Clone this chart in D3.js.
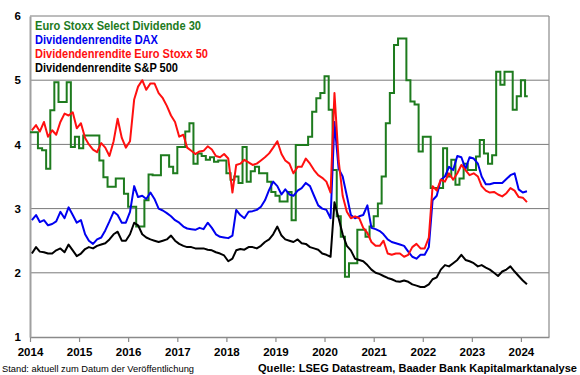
<!DOCTYPE html>
<html><head><meta charset="utf-8">
<script src="https://cdn.jsdelivr.net/npm/d3@7"></script>
<style>
html,body{margin:0;padding:0;background:#fff;}
svg{display:block;font-family:"Liberation Sans",Arial,sans-serif;}
</style></head>
<body><svg id="c" width="580" height="375"></svg>
<script>
// ---- data (monthly) ----
const months = [
"2014-01","2014-02","2014-03","2014-04","2014-05","2014-06","2014-07","2014-08","2014-09","2014-10","2014-11","2014-12",
"2015-01","2015-02","2015-03","2015-04","2015-05","2015-06","2015-07","2015-08","2015-09","2015-10","2015-11","2015-12",
"2016-01","2016-02","2016-03","2016-04","2016-05","2016-06","2016-07","2016-08","2016-09","2016-10","2016-11","2016-12",
"2017-01","2017-02","2017-03","2017-04","2017-05","2017-06","2017-07","2017-08","2017-09","2017-10","2017-11","2017-12",
"2018-01","2018-02","2018-03","2018-04","2018-05","2018-06","2018-07","2018-08","2018-09","2018-10","2018-11","2018-12",
"2019-01","2019-02","2019-03","2019-04","2019-05","2019-06","2019-07","2019-08","2019-09","2019-10","2019-11","2019-12",
"2020-01","2020-02","2020-03","2020-04","2020-05","2020-06","2020-07","2020-08","2020-09","2020-10","2020-11","2020-12",
"2021-01","2021-02","2021-03","2021-04","2021-05","2021-06","2021-07","2021-08","2021-09","2021-10","2021-11","2021-12",
"2022-01","2022-02","2022-03","2022-04","2022-05","2022-06","2022-07","2022-08","2022-09","2022-10","2022-11","2022-12",
"2023-01","2023-02","2023-03","2023-04","2023-05","2023-06","2023-07","2023-08","2023-09","2023-10","2023-11","2023-12",
"2024-01","2024-02"];

const seriesNames = ["Euro Stoxx Select Dividende 30","Dividendenrendite DAX","Dividendenrendite Euro Stoxx 50","Dividendenrendite S&P 500"];
const seriesColors = ["#1e7b1e","#0000f0","#ff1010","#000000"];

const stoxxSelect = [
4.19,4.19,3.94,3.91,3.62,4.53,4.97,4.66,4.66,4.97,3.96,4.12,
3.94,4.14,4.14,4.14,4.14,3.75,3.49,3.34,3.34,3.47,3.47,3.23,
3.03,3.03,2.72,2.72,3.13,3.53,3.52,3.52,3.83,3.83,3.65,3.55,
3.96,3.96,4.20,4.33,3.70,3.86,3.82,3.76,3.80,3.73,3.75,3.75,
3.55,3.45,3.50,3.40,3.96,3.42,3.58,3.65,3.55,3.55,3.42,3.26,
3.20,3.11,3.11,3.26,2.82,3.99,3.99,3.99,4.12,4.51,4.72,4.80,
5.06,4.54,3.60,2.88,2.56,1.94,2.15,2.15,2.67,2.67,2.56,2.72,
2.88,3.08,3.50,4.33,4.80,5.55,5.65,5.65,5.00,4.67,4.62,3.89,
4.12,4.12,3.32,3.32,3.32,3.94,3.50,3.76,3.37,3.47,3.70,3.60,
3.60,3.81,4.07,3.86,3.70,3.83,5.13,4.93,5.13,5.13,4.54,4.75,
5.00,4.75];

const dax = [
2.82,2.90,2.79,2.82,2.74,2.76,2.80,2.95,2.85,3.02,2.90,2.78,
2.82,2.60,2.50,2.45,2.52,2.55,2.66,2.80,2.95,2.90,2.78,2.78,
2.95,3.35,3.18,3.20,3.15,3.25,3.15,3.00,2.97,2.93,2.88,2.82,
2.78,2.72,2.69,2.68,2.67,2.70,2.68,2.78,2.70,2.60,2.56,2.55,
2.54,2.58,2.98,2.90,2.85,2.95,2.96,2.98,3.03,3.13,3.29,3.42,
3.35,3.22,3.30,3.22,3.20,3.28,3.32,3.40,3.35,3.20,3.05,3.00,
2.98,2.85,4.35,3.62,3.50,3.20,2.90,2.85,2.88,2.90,3.05,2.70,
2.68,2.65,2.60,2.52,2.48,2.46,2.44,2.42,2.33,2.25,2.22,2.28,
2.28,2.40,3.13,3.20,3.45,3.50,3.65,3.60,3.82,3.80,3.62,3.80,
3.78,3.70,3.50,3.38,3.38,3.40,3.40,3.40,3.46,3.52,3.55,3.30,
3.25,3.27];

const stoxx50 = [
4.22,4.30,4.20,4.35,4.12,4.22,4.15,4.35,4.48,4.45,4.50,4.25,
4.33,4.10,4.00,3.92,3.88,4.02,3.95,3.82,4.05,4.40,4.10,3.95,
4.05,4.70,4.90,5.00,4.85,4.95,4.95,4.80,4.72,4.60,4.45,4.35,
4.12,4.15,3.95,3.90,3.85,3.89,3.90,3.97,3.92,3.82,3.80,3.85,
3.78,3.25,3.68,3.70,3.76,3.72,3.68,3.70,3.75,3.80,3.86,3.95,
4.05,3.85,3.75,3.70,3.55,3.65,3.65,3.78,3.70,3.60,3.52,3.48,
3.42,3.25,4.80,3.75,3.20,2.95,2.85,2.88,2.85,2.70,2.62,2.48,
2.42,2.42,2.50,2.30,2.28,2.30,2.30,2.25,2.28,2.40,2.45,2.38,
2.38,2.55,3.35,3.28,3.45,3.42,3.55,3.45,3.55,3.68,3.60,3.52,
3.55,3.50,3.35,3.28,3.25,3.26,3.22,3.19,3.24,3.32,3.28,3.18,
3.17,3.10];

const sp500 = [
2.30,2.40,2.33,2.32,2.30,2.30,2.35,2.38,2.32,2.44,2.35,2.26,
2.30,2.37,2.40,2.38,2.42,2.44,2.46,2.52,2.60,2.64,2.50,2.50,
2.60,2.78,2.74,2.60,2.55,2.52,2.50,2.48,2.50,2.52,2.58,2.50,
2.45,2.42,2.40,2.40,2.38,2.38,2.38,2.36,2.35,2.32,2.30,2.27,
2.18,2.22,2.35,2.37,2.36,2.40,2.40,2.38,2.42,2.48,2.52,2.60,
2.72,2.58,2.52,2.50,2.48,2.52,2.46,2.45,2.40,2.38,2.36,2.30,
2.28,2.25,3.10,2.85,2.60,2.42,2.35,2.22,2.20,2.18,2.12,2.05,
2.00,1.98,1.95,1.92,1.90,1.87,1.86,1.88,1.86,1.82,1.80,1.78,
1.78,1.82,1.90,1.93,2.05,2.12,2.10,2.15,2.20,2.28,2.20,2.18,
2.15,2.10,2.12,2.08,2.05,2.00,1.95,2.02,2.05,2.10,2.02,1.95,
1.88,1.82];

const yTicks = [1,2,3,4,5,6];
const xTickYears = [2014,2015,2016,2017,2018,2019,2020,2021,2022,2023,2024];
const footLeft = "Stand: aktuell zum Datum der Veröffentlichung";
const footRight = "Quelle: LSEG Datastream, Baader Bank Kapitalmarktanalyse";

// ---- drawing ----
const svg = d3.select("#c");
const parse = d3.timeParse("%Y-%m");
const monthStart = months.map(parse);
const monthMid = monthStart.map(d => d3.timeDay.offset(d, 14));

const x = d3.scaleTime().domain([new Date(2014,0,1), new Date(2024,6,28)]).range([30, 549]);
const y = d3.scaleLinear().domain([1,6]).range([337,16]);

// gridlines
svg.append("g").selectAll("line").data(yTicks.filter(v => v > 1)).join("line")
  .attr("x1", 30).attr("x2", 549).attr("y1", d => y(d)).attr("y2", d => y(d))
  .attr("stroke", "#7a7a7a").attr("stroke-width", 1);
// right border
svg.append("line").attr("x1",549).attr("x2",549).attr("y1",y(6)).attr("y2",y(1))
  .attr("stroke","#8a8a8a").attr("stroke-width",1.2);

// x axis
const xAxis = d3.axisBottom(x)
  .tickValues(xTickYears.map(yr => new Date(yr,0,1)))
  .tickFormat(d3.timeFormat("%Y")).tickSize(5).tickSizeOuter(0);
const gx = svg.append("g").attr("transform", `translate(0,${y(1)})`).call(xAxis);
gx.select(".domain").attr("stroke","#8a8a8a").attr("stroke-width",1.5);
gx.selectAll(".tick line").attr("stroke","#8a8a8a").attr("stroke-width",1.2);
gx.selectAll(".tick text").attr("font-size","11.5px").attr("font-weight","bold")
  .attr("fill","#000").attr("dy","0.95em").attr("font-family","'Liberation Sans',Arial,sans-serif");

// y axis
const yAxis = d3.axisLeft(y).tickValues(yTicks).tickFormat(d3.format("d")).tickSize(0).tickPadding(0);
const gy = svg.append("g").attr("transform","translate(30,0)").call(yAxis);
gy.select(".domain").attr("stroke","#a0a0a0").attr("stroke-width",2);
gy.selectAll(".tick text").attr("x",-9).attr("font-size","11.5px").attr("font-weight","bold")
  .attr("fill","#000").attr("font-family","'Liberation Sans',Arial,sans-serif");

// series (drawn in legend order: later series on top)
const line = d3.line().x(d => x(d[0])).y(d => y(d[1]));
const stepLine = d3.line().x(d => x(d[0])).y(d => y(d[1])).curve(d3.curveStepAfter);

const greenPts = monthStart.map((d,i) => [d, stoxxSelect[i]]);
greenPts.push([d3.timeDay.offset(monthStart[monthStart.length-1], 20), stoxxSelect[stoxxSelect.length-1]]);
svg.append("path").datum(greenPts).attr("d", stepLine)
  .attr("fill","none").attr("stroke", seriesColors[0]).attr("stroke-width",2).attr("stroke-linejoin","miter");

[dax, stoxx50, sp500].forEach((vals, k) => {
  svg.append("path").datum(monthMid.map((d,i) => [d, vals[i]])).attr("d", line)
    .attr("fill","none").attr("stroke", seriesColors[k+1]).attr("stroke-width",2).attr("stroke-linejoin","round");
});

// legend
const legendW = [166,123,173,143];
svg.append("g").selectAll("text").data(seriesNames).join("text")
  .attr("x",35).attr("y",(d,i) => 26 + i*14).attr("dy","0.35em")
  .attr("font-size","12px").attr("font-weight","bold")
  .attr("fill",(d,i) => seriesColors[i])
  .attr("textLength",(d,i) => legendW[i]).attr("lengthAdjust","spacingAndGlyphs")
  .text(d => d);

// footer
svg.append("text").attr("x",2).attr("y",372).attr("font-size","8.5px")
  .attr("fill","#000").attr("textLength",192).attr("lengthAdjust","spacingAndGlyphs").text(footLeft);
svg.append("text").attr("x",258).attr("y",372).attr("font-size","11px").attr("font-weight","bold")
  .attr("fill","#000").attr("textLength",319).attr("lengthAdjust","spacingAndGlyphs").text(footRight);
</script></body></html>
